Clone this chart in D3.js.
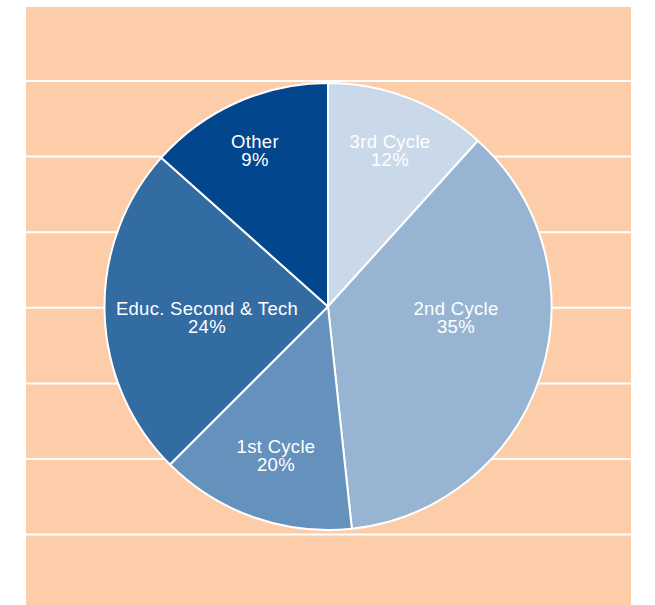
<!DOCTYPE html>
<html>
<head>
<meta charset="utf-8">
<script src="https://cdn.jsdelivr.net/npm/d3@7"></script>
<style>
  html, body { margin: 0; padding: 0; background: #ffffff; }
  svg { display: block; }
</style>
</head>
<body>
<svg id="chart" width="655" height="605"></svg>
<script>
// ---- data ----
const categories = ["3rd Cycle", "2nd Cycle", "1st Cycle", "Educ. Second & Tech", "Other"];
const sliceValues = [11.7, 36.6, 14.2, 24.1, 13.4];   // slice sizes as drawn
const labelPercents = ["12%", "35%", "20%", "24%", "9%"]; // printed labels
const sliceColors = ["#c9d9e9", "#97b4d2", "#6591bd", "#336ca3", "#02478e"];

// ---- layout ----
const W = 655, H = 605;
const bg = { x: 26, y: 7, w: 605, h: 598, fill: "#fdcdaa" };
const stripeCount = 7, stripeStart = 81, stripeStep = 75.6;
const cx = 328, cy = 306.5, R = 223.5;
// label anchor offsets (first-line centre) relative to pie centre
const labelOffsets = [[62, -165], [128, 2], [-52, 140], [-121, 2], [-73, -165]];

const svg = d3.select("#chart");

svg.append("rect")
  .attr("x", bg.x).attr("y", bg.y)
  .attr("width", bg.w).attr("height", bg.h)
  .attr("fill", bg.fill);

const stripeScale = d3.scaleLinear().domain([0, 1]).range([stripeStart, stripeStart + stripeStep]);
svg.append("g").selectAll("line")
  .data(d3.range(stripeCount))
  .join("line")
  .attr("x1", bg.x).attr("x2", bg.x + bg.w)
  .attr("y1", d => stripeScale(d)).attr("y2", d => stripeScale(d))
  .attr("stroke", "#ffffff").attr("stroke-width", 2);

const pie = d3.pie().sort(null).value(d => d.value);
const data = categories.map((c, i) => ({ name: c, value: sliceValues[i], label: labelPercents[i], color: sliceColors[i], off: labelOffsets[i] }));
const arcs = pie(data);
const arc = d3.arc().innerRadius(0).outerRadius(R);

const g = svg.append("g").attr("transform", `translate(${cx},${cy})`);

g.selectAll("path")
  .data(arcs)
  .join("path")
  .attr("d", arc)
  .attr("fill", d => d.data.color)
  .attr("stroke", "#ffffff")
  .attr("stroke-width", 2)
  .attr("stroke-linejoin", "round");

const lbl = g.selectAll("text.lbl")
  .data(arcs)
  .join("text")
  .attr("class", "lbl")
  .attr("text-anchor", "middle")
  .attr("fill", "#ffffff")
  .attr("font-family", "'Liberation Sans', Arial, Helvetica, sans-serif")
  .attr("font-size", "18.5px")
  .attr("letter-spacing", "0.3px")
  .attr("transform", d => `translate(${d.data.off[0]},${d.data.off[1]})`);

lbl.append("tspan").attr("x", 0).attr("dy", "0.35em").text(d => d.data.name);
lbl.append("tspan").attr("x", 0).attr("dy", "18.5px").text(d => d.data.label);
</script>
</body>
</html>
